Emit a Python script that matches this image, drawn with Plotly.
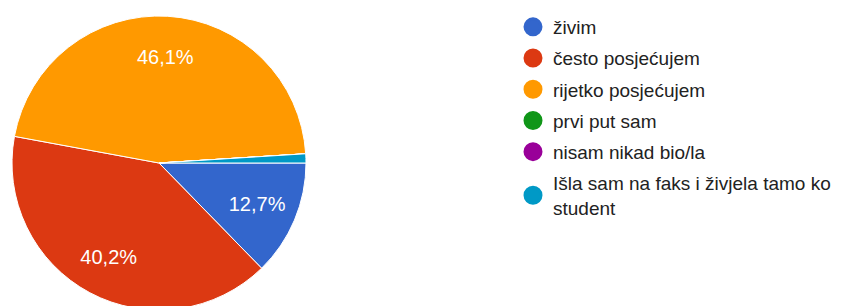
import plotly.graph_objects as go

labels = ["živim", "često posjećujem", "rijetko posjećujem", "prvi put sam",
          "nisam nikad bio/la", "Išla sam na faks i živjela tamo ko student"]
legend_labels = ["živim", "često posjećujem", "rijetko posjećujem", "prvi put sam",
                 "nisam nikad bio/la", "Išla sam na faks i živjela tamo ko<br>student"]
values = [12.7, 40.2, 46.1, 0, 0, 1.0]
colors = ["#3366cc", "#dc3912", "#ff9900", "#109618", "#990099", "#0099c6"]
templates = ["%{percent:.1%}", "%{percent:.1%}", "%{percent:.1%}", "", "", ""]

W, H = 842, 306
FONT = "Arial, Liberation Sans, sans-serif"
dom = dict(x=[4 / W, 298 / W], y=[4 / H, 298 / H])

fig = go.Figure()
# coloured slices
fig.add_trace(go.Pie(
    labels=labels, values=values, sort=False, direction="clockwise", rotation=90,
    marker=dict(colors=colors, line=dict(color="white", width=1)),
    textinfo="none", showlegend=False, hoverinfo="label+percent",
    domain=dom,
))
# percentage labels, placed in an outer ring like the reference
fig.add_trace(go.Pie(
    labels=labels, values=values, sort=False, direction="clockwise", rotation=90,
    hole=0.45,
    marker=dict(colors=["rgba(0,0,0,0)"] * len(values), line=dict(width=0)),
    texttemplate=templates, textposition="inside", insidetextorientation="horizontal",
    textfont=dict(color="white", size=20, family=FONT),
    showlegend=False, hoverinfo="skip",
    domain=dom,
))
for lab, col in zip(legend_labels, colors):
    fig.add_trace(go.Scatter(
        x=[None], y=[None], mode="markers", name=lab, legendgroup=lab,
        marker=dict(symbol="circle", size=16, color=col, line=dict(color=col, width=3)),
    ))

fig.update_layout(
    width=W, height=H, margin=dict(l=0, r=0, t=0, b=0),
    paper_bgcolor="white", plot_bgcolor="white",
    separators=",.",
    xaxis=dict(visible=False), yaxis=dict(visible=False),
    legend=dict(x=505 / W, y=1.0, xanchor="left", yanchor="top",
                font=dict(family=FONT, size=19, color="#222222"),
                tracegroupgap=3.5, itemclick=False),
    showlegend=True,
)
fig.write_html("out.html")
